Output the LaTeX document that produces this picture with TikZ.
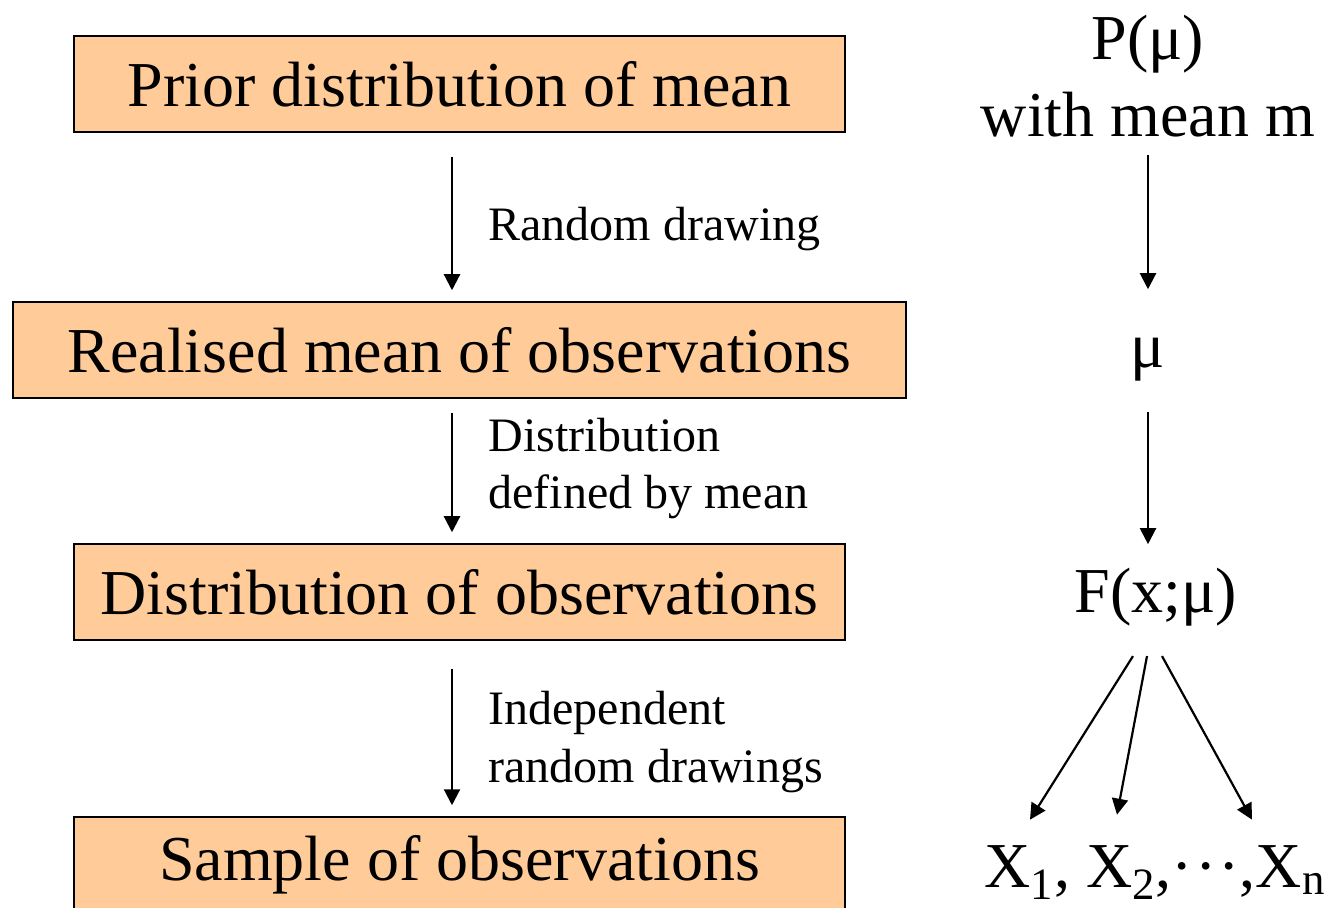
\documentclass[tikz,border=0pt]{standalone}
\usepackage{fontspec}
\setmainfont{Liberation Serif}
\usetikzlibrary{arrows.meta}
\definecolor{naranjacaja}{HTML}{FFCC99}

\begin{document}
\begin{tikzpicture}[
    x=0.5pt, y=-0.5pt,
    caja/.style={draw=black, line width=0.75pt, fill=naranjacaja, minimum width=385.5pt,
      minimum height=48pt, inner sep=0pt, font=\fontsize{32}{38}\selectfont},
    cajaancha/.style={caja, minimum width=446.5pt},
    rotulo/.style={align=left, inner sep=0pt, anchor=base west, font=\fontsize{24}{28.5}\selectfont},
    simbolo/.style={align=center, inner sep=0pt, font=\fontsize{32}{38.5}\selectfont},
    flecha/.style={-{Triangle[length=8pt, width=8pt]}, line width=1.1pt}
  ]
    \useasboundingbox (0,0) rectangle (1328,908);
    \clip (0,0) rectangle (1328,908);

    \node[caja] (prior) at (459.5,84) {Prior distribution of mean};
    \node[cajaancha] (realizada) at (459.5,350) {Realised mean of observations};
    \node[caja] (distrib) at (459.5,592) {Distribution of observations};
    \node[caja] (muestra) at (459.5,865) {Sample of observations};

    \node[rotulo] (etiq1) at (488,241) {Random drawing};
    \node[rotulo] (etiq2) at (488,509) {Distribution\\defined by mean};
    \node[rotulo] (etiq3) at (488,782) {Independent\\random drawings};

    \node[simbolo] (pmu) at (1148,76) {P(μ)\\with mean m};
    \node[simbolo, anchor=base] (mu) at (1148,368) {μ};
    \node[simbolo, anchor=base] (fx) at (1156,613) {F(x;μ)};
    \node[simbolo, anchor=base] (xs) at (1155,887) {X\textsubscript{1}, X\textsubscript{2},·\kern1pt·\kern1pt·,X\textsubscript{n}};

    \draw[flecha, shorten <=12pt, shorten >=5.5pt] ([xshift=-3.75pt]prior.south) -- ([xshift=-3.75pt]realizada.north);
    \draw[flecha, shorten <=7pt, shorten >=5.5pt] ([xshift=-3.75pt]realizada.south) -- ([xshift=-3.75pt]distrib.north);
    \draw[flecha, shorten <=14pt, shorten >=5.5pt] ([xshift=-3.75pt]distrib.south) -- ([xshift=-3.75pt]muestra.north);

    \draw[flecha, shorten <=9pt, shorten >=24.5pt] (pmu.south) -- (mu.north);
    \draw[flecha, shorten <=15pt, shorten >=12pt] (mu.south) -- (mu.south |- fx.north);
    \draw[flecha] ([xshift=-11.5pt,yshift=-14.5pt]fx.south) -- ([xshift=-62.5pt,yshift=12.5pt]xs.north);
    \draw[flecha] ([xshift=-4.5pt,yshift=-14.5pt]fx.south) -- ([xshift=-19pt,yshift=15pt]xs.north);
    \draw[flecha] ([xshift=3pt,yshift=-14.5pt]fx.south) -- ([xshift=48.5pt,yshift=12.5pt]xs.north);
\end{tikzpicture}
\end{document}
